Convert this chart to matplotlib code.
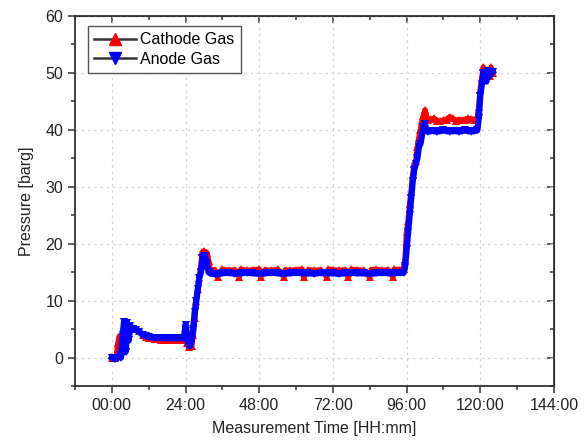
import numpy as np
import matplotlib
matplotlib.use("Agg")
import matplotlib.pyplot as plt
from matplotlib.lines import Line2D
from matplotlib.ticker import MultipleLocator, FuncFormatter

plt.rcParams['font.family'] = ['Liberation Sans', 'DejaVu Sans']

cat_t = [0, 1, 1.5, 2, 2.5, 3, 3.5, 4, 4.5, 5, 6, 7, 8, 9, 10, 11, 12, 14, 16, 18, 20, 22, 24,
         24.5, 25, 26, 26.5, 27, 27.5, 28, 28.5, 29, 29.5, 30, 31, 31.5,
         32, 33.5, 34.5, 36, 38, 40, 41.5, 42, 44, 46, 48, 48.5, 50, 52, 54, 56, 56.5, 58, 60,
         62, 62.5, 64, 66, 68, 70, 70.5, 72, 74, 76, 77, 78, 80, 82, 84, 84.5, 86, 88, 90,
         91.5, 92, 94, 95,
         95.5, 96, 96.5, 97, 97.5, 98, 98.5, 99, 99.5, 100, 100.5, 101, 101.5, 102, 102.5,
         103, 104, 105, 106, 107, 108, 109, 110, 111, 112, 113, 114, 115, 116, 117, 118, 119,
         119.5, 120, 120.5, 121, 121.5, 122, 122.5, 123, 123.5, 124]
cat_p = [0, 0, 0.3, 2.5, 3.8, 1.5, 3.5, 4.5, 2.0, 5.2, 5.3, 5.2, 5.0, 4.6, 4.0, 3.6, 3.4, 3.2, 3.1, 3.1, 3.0, 3.0, 3.0,
         2.5, 1.8, 2.0, 4.0, 7.0, 10.0, 12.0, 14.0, 16.0, 18.5, 18.7, 18.4, 17.0,
         15.4, 15.4, 14.2, 15.5, 15.3, 15.4, 14.2, 15.5, 15.3, 15.4, 15.5, 14.2, 15.4, 15.3, 15.5, 14.2, 15.4, 15.3, 15.4,
         15.5, 14.2, 15.4, 15.3, 15.4, 14.2, 15.5, 15.4, 15.3, 15.4, 14.2, 15.5, 15.4, 15.3, 14.2, 15.4, 15.5, 15.3, 15.4,
         14.2, 15.5, 15.4, 15.5,
         17.0, 22.0, 24.0, 27.0, 29.0, 32.0, 34.0, 34.5, 37.0, 38.5, 40.0, 41.5, 42.5, 43.5, 42.2,
         41.8, 41.9, 42.0, 41.6, 41.5, 41.7, 41.8, 42.3, 42.0, 41.6, 41.8, 41.7, 41.8, 42.0, 41.9, 41.8, 41.8,
         44.0, 47.0, 49.0, 51.0, 50.0, 49.5, 50.5, 49.5, 51.0, 50.0]

ano_t = [0, 1, 2, 2.5, 3, 3.5, 4, 4.5, 5, 5.5, 6, 7, 8, 9, 10, 11, 12, 14, 16, 18, 20, 22, 23.5,
         24, 24.3, 24.5, 25, 25.5, 26, 26.5, 27, 27.5, 28, 28.5, 29, 29.5, 30, 30.5, 31, 31.5,
         32, 34, 36, 38, 40, 42, 44, 46, 48, 50, 52, 54, 56, 58, 60, 62, 64, 66, 68, 70, 72,
         74, 76, 78, 80, 82, 84, 86, 88, 90, 92, 94, 95,
         95.5, 96, 96.5, 97, 97.5, 98, 98.5, 99, 99.5, 100, 100.5, 101, 101.5, 102, 102.5,
         103, 104, 105, 106, 107, 108, 109, 110, 111, 112, 113, 114, 115, 116, 117, 118, 119,
         119.5, 120, 120.5, 121, 121.5, 122, 122.5, 123, 123.5, 124]
ano_p = [0, -0.3, 0, 0.5, 0, 4.0, 6.3, 1.0, 6.0, 3.0, 5.5, 5.0, 4.8, 4.5, 4.0, 3.8, 3.6, 3.5, 3.5, 3.4, 3.4, 3.4, 3.4,
         5.8, 4.6, 3.5, 2.2, 2.0, 3.0, 5.0, 8.0, 10.0, 12.0, 14.0, 15.0, 17.5, 17.8, 17.6, 16.5, 15.0,
         14.8, 14.6, 14.8, 14.9, 14.7, 14.8, 14.9, 14.8, 14.7, 14.8, 14.9, 14.8, 14.7, 14.8, 14.9, 14.8, 14.8, 14.7, 14.9, 14.8, 14.8,
         14.7, 14.8, 14.9, 14.8, 14.8, 14.7, 14.8, 14.9, 14.8, 14.8, 14.9, 14.9,
         16.0, 19.0, 22.0, 25.0, 28.0, 31.0, 33.0, 34.0, 35.0, 37.0, 37.5, 39.0, 40.5, 41.0, 39.8,
         39.7, 39.8, 39.8, 39.7, 39.8, 39.9, 39.8, 39.7, 39.8, 39.8, 39.7, 39.8, 39.9, 39.8, 39.7, 39.8, 39.9,
         42.0, 46.0, 48.0, 50.0, 49.0, 48.5, 50.3, 49.5, 50.0, 50.2]

xticks = [0, 24, 48, 72, 96, 120, 144]

red = '#ff0000'
blue = '#0000ff'
ink = '#333333'

fig = plt.figure(figsize=(5.84, 4.41), dpi=100)
ax = fig.add_axes([0.1284, 0.1247, 0.8202, 0.839])

# thick band underneath + dense markers, like the exported Origin plot
ax.plot(cat_t, cat_p, color=red, lw=4, solid_joinstyle='round', zorder=2)
ax.plot(cat_t, cat_p, ls='none', marker='^', ms=6, color=red, mew=0, zorder=2)
ax.plot(ano_t, ano_p, color=blue, lw=4.5, solid_joinstyle='round', zorder=3)
ax.plot(ano_t, ano_p, ls='none', marker='v', ms=6, color=blue, mew=0, zorder=3)

ax.set_xlim(-12, 144)
ax.set_ylim(-5, 60)
ax.set_xticks(xticks)
ax.xaxis.set_major_formatter(FuncFormatter(lambda v, p: '%02d:00' % int(v)))
ax.xaxis.set_minor_locator(MultipleLocator(12))
ax.yaxis.set_major_locator(MultipleLocator(10))
ax.yaxis.set_minor_locator(MultipleLocator(5))

ax.grid(True, which='major', color='#d4d4d4', ls=(0, (2, 3)), lw=0.9)
ax.set_axisbelow(True)

for s in ax.spines.values():
    s.set_color(ink)
    s.set_linewidth(1.3)

ax.tick_params(which='both', direction='out', colors=ink, labelsize=11.5, width=1.1)
ax.tick_params(which='major', length=5)
ax.tick_params(which='minor', length=3)
ax.tick_params(axis='both', which='both', labelcolor='#222222')

# inward ticks on top and right
ax2 = ax.secondary_xaxis('top')
ax2.set_xticks(xticks)
ax2.xaxis.set_minor_locator(MultipleLocator(12))
ax2.tick_params(which='both', direction='in', colors=ink, labeltop=False, width=1.1)
ax2.tick_params(which='major', length=5)
ax2.tick_params(which='minor', length=3)
ay2 = ax.secondary_yaxis('right')
ay2.yaxis.set_major_locator(MultipleLocator(10))
ay2.yaxis.set_minor_locator(MultipleLocator(5))
ay2.tick_params(which='both', direction='in', colors=ink, labelright=False, width=1.1)
ay2.tick_params(which='major', length=5)
ay2.tick_params(which='minor', length=3)

ax.set_xlabel('Measurement Time [HH:mm]', fontsize=11.5, color='#222222', labelpad=6)
ax.set_ylabel('Pressure [barg]', fontsize=11.5, color='#222222', labelpad=8)

handles = [Line2D([], [], color=ink, lw=1.8, marker='^', ms=9, mfc=red, mec=red),
           Line2D([], [], color=ink, lw=1.8, marker='v', ms=9, mfc=blue, mec=blue)]
leg = ax.legend(handles, ['Cathode Gas', 'Anode Gas'], loc='upper left',
                bbox_to_anchor=(0.01, 0.995), fontsize=11.5, fancybox=False,
                edgecolor='#555555', framealpha=1, handlelength=2.6,
                handletextpad=0.3, borderpad=0.4, labelspacing=0.3)
leg.get_frame().set_linewidth(1.0)

fig.savefig('out.png', dpi=100)
